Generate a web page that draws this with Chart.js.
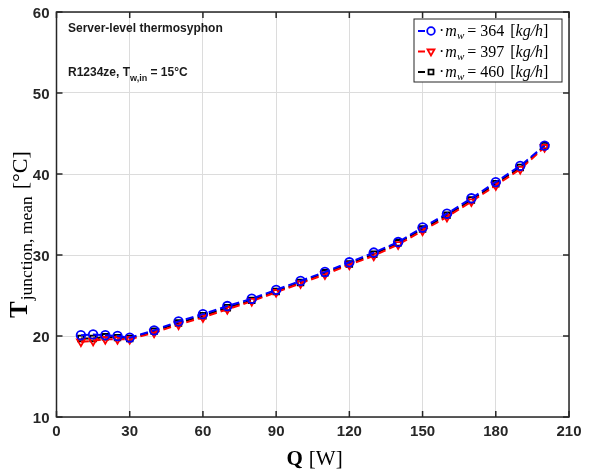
<!DOCTYPE html>
<html>
<head>
<meta charset="utf-8">
<script src="https://cdn.jsdelivr.net/npm/chart.js@4"></script>
<style>
  html, body { margin: 0; padding: 0; background: #fff; }
  #wrap { width: 598px; height: 472px; }
</style>
</head>
<body>
<div id="wrap"><canvas id="chart" width="598" height="472"></canvas></div>
<script>
// heat load Q [W]
const heatLoad = [10, 15, 20, 25, 30, 40, 50, 60, 70, 80, 90, 100, 110, 120, 130, 140, 150, 160, 170, 180, 190, 200];

// mean junction temperature [°C] per water flow rate
const temp364 = [20.1, 20.2, 20.1, 20.0, 19.8, 20.7, 21.8, 22.7, 23.7, 24.6, 25.7, 26.8, 27.9, 29.1, 30.3, 31.6, 33.4, 35.1, 37.0, 39.0, 41.0, 43.5];
const temp397 = [19.3, 19.4, 19.6, 19.6, 19.6, 20.4, 21.4, 22.3, 23.3, 24.3, 25.4, 26.5, 27.6, 28.8, 29.9, 31.3, 33.0, 34.7, 36.6, 38.6, 40.6, 43.3];
const temp460 = [19.7, 19.7, 19.9, 19.8, 19.7, 20.6, 21.6, 22.5, 23.5, 24.4, 25.5, 26.6, 27.8, 28.9, 30.1, 31.5, 33.2, 34.9, 36.8, 38.8, 40.8, 43.5];

const flowLabels = ['364', '397', '460'];
const xTicks = [0, 30, 60, 90, 120, 150, 180, 210];
const yTicks = [10, 20, 30, 40, 50, 60];

function pts(ys) {
  return heatLoad.map((q, i) => ({ x: q, y: ys[i] }));
}

const seriesStyle = [
  { color: '#0000ff', marker: 'circle', radius: 4.3, rot: 0 },
  { color: '#ff0000', marker: 'triangle', radius: 4.5, rot: 180 },
  { color: '#000000', marker: 'rect', radius: 4, rot: 0 }
];

const datasets = [temp364, temp397, temp460].map((ys, i) => ({
  label: flowLabels[i],
  data: pts(ys),
  borderColor: seriesStyle[i].color,
  borderWidth: 2,
  borderDash: [8, 4],
  pointStyle: seriesStyle[i].marker,
  pointRotation: seriesStyle[i].rot,
  pointRadius: seriesStyle[i].radius,
  pointBorderColor: seriesStyle[i].color,
  pointBackgroundColor: 'rgba(0,0,0,0)',
  pointBorderWidth: 1.8,
  fill: false,
  tension: 0
}));

// box, inward ticks, titles, annotation and legend
const decor = {
  id: 'decor',
  afterDraw(chart) {
    const ctx = chart.ctx;
    const a = chart.chartArea;
    const xs = chart.scales.x, ys = chart.scales.y;
    ctx.save();
    ctx.strokeStyle = '#262626';
    ctx.lineWidth = 1.5;
    ctx.strokeRect(a.left, a.top, a.right - a.left, a.bottom - a.top);
    ctx.beginPath();
    xTicks.forEach(v => {
      const p = xs.getPixelForValue(v);
      ctx.moveTo(p, a.bottom); ctx.lineTo(p, a.bottom - 6);
      ctx.moveTo(p, a.top); ctx.lineTo(p, a.top + 6);
    });
    yTicks.forEach(v => {
      const p = ys.getPixelForValue(v);
      ctx.moveTo(a.left, p); ctx.lineTo(a.left + 6, p);
      ctx.moveTo(a.right, p); ctx.lineTo(a.right - 6, p);
    });
    ctx.stroke();

    // x title
    ctx.fillStyle = '#000';
    ctx.textBaseline = 'alphabetic';
    ctx.textAlign = 'center';
    ctx.font = 'bold 21px "Liberation Serif"';
    ctx.fillText('Q', (a.left + a.right) / 2 - 18, 465);
    ctx.font = '21px "Liberation Serif"';
    ctx.fillText('[W]', (a.left + a.right) / 2 + 13, 465);

    // y title (rotated)
    ctx.save();
    ctx.translate(27, 318);
    ctx.rotate(-Math.PI / 2);
    ctx.textAlign = 'left';
    let x = 0;
    ctx.font = 'bold 25px "Liberation Serif"';
    ctx.fillText('T', x, 0);
    x += ctx.measureText('T').width + 1;
    ctx.font = '17.5px "Liberation Serif"';
    ctx.fillText('junction, mean', x, 5);
    x += ctx.measureText('junction, mean').width + 7;
    ctx.font = '22px "Liberation Serif"';
    ctx.fillText('[°C]', x, 0);
    ctx.restore();

    // annotations
    ctx.textAlign = 'left';
    ctx.fillStyle = '#1a1a1a';
    ctx.font = 'bold 12px "Liberation Sans"';
    ctx.fillText('Server-level thermosyphon', 68, 32);
    ctx.fillText('R1234ze, T', 68, 76);
    let w = ctx.measureText('R1234ze, T').width;
    ctx.font = 'bold 9px "Liberation Sans"';
    ctx.fillText('w,in', 68 + w, 81);
    let w2 = ctx.measureText('w,in').width;
    ctx.font = 'bold 12px "Liberation Sans"';
    ctx.fillText(' = 15°C', 68 + w + w2, 76);

    // legend
    const lx = 414, ly = 19, lw = 148, lh = 63;
    ctx.fillStyle = '#fff';
    ctx.fillRect(lx, ly, lw, lh);
    ctx.strokeStyle = '#262626';
    ctx.lineWidth = 1;
    ctx.strokeRect(lx, ly, lw, lh);
    datasets.forEach((ds, i) => {
      const cy = ly + 12 + i * 20.5;
      ctx.strokeStyle = ds.borderColor;
      ctx.lineWidth = 2;
      ctx.beginPath();
      ctx.moveTo(lx + 4, cy); ctx.lineTo(lx + 11, cy);
      ctx.stroke();
      ctx.lineWidth = 1.8;
      ctx.fillStyle = 'rgba(0,0,0,0)';
      Chart.helpers.drawPoint(ctx, {
        pointStyle: ds.pointStyle, rotation: ds.pointRotation,
        radius: ds.pointRadius - 0.5, borderWidth: 1.8
      }, lx + 17, cy);
      ctx.fillStyle = '#000';
      let tx = lx + 25;
      ctx.font = '16px "Liberation Serif"';
      ctx.fillText('·', tx, cy + 5); tx += ctx.measureText('·').width + 1;
      ctx.font = 'italic 16px "Liberation Serif"';
      ctx.fillText('m', tx, cy + 5); tx += ctx.measureText('m').width;
      ctx.font = 'italic 11px "Liberation Serif"';
      ctx.fillText('w', tx, cy + 8); tx += ctx.measureText('w').width + 3;
      ctx.font = '16px "Liberation Serif"';
      const mid = '= ' + ds.label + ' ';
      ctx.fillText(mid, tx, cy + 5); tx += ctx.measureText(mid).width + 2;
      ctx.fillText('[', tx, cy + 5); tx += ctx.measureText('[').width;
      ctx.font = 'italic 16px "Liberation Serif"';
      ctx.fillText('kg/h', tx, cy + 5); tx += ctx.measureText('kg/h').width;
      ctx.font = '16px "Liberation Serif"';
      ctx.fillText(']', tx, cy + 5);
    });
    ctx.restore();
  }
};

new Chart(document.getElementById('chart'), {
  type: 'line',
  data: { datasets: datasets },
  options: {
    responsive: false,
    animation: false,
    layout: { padding: { top: 12, right: 29, left: 0, bottom: 0 } },
    plugins: { legend: { display: false }, tooltip: { enabled: false } },
    scales: {
      x: {
        type: 'linear',
        min: 0, max: 210,
        afterBuildTicks: s => { s.ticks = xTicks.map(v => ({ value: v })); },
        afterFit: s => { s.height = 55; },
        grid: { color: '#dcdcdc', lineWidth: 1, drawTicks: false },
        border: { display: false },
        ticks: {
          padding: 6,
          color: '#262626',
          font: { family: 'Liberation Sans', size: 15, weight: 'bold' }
        }
      },
      y: {
        type: 'linear',
        min: 10, max: 60,
        afterBuildTicks: s => { s.ticks = yTicks.map(v => ({ value: v })); },
        afterFit: s => { s.width = 56.5; },
        grid: { color: '#dcdcdc', lineWidth: 1, drawTicks: false },
        border: { display: false },
        ticks: {
          padding: 7,
          labelOffset: 1.5,
          color: '#262626',
          font: { family: 'Liberation Sans', size: 15, weight: 'bold', lineHeight: 0.6 }
        }
      }
    }
  },
  plugins: [decor]
});
</script>
</body>
</html>
